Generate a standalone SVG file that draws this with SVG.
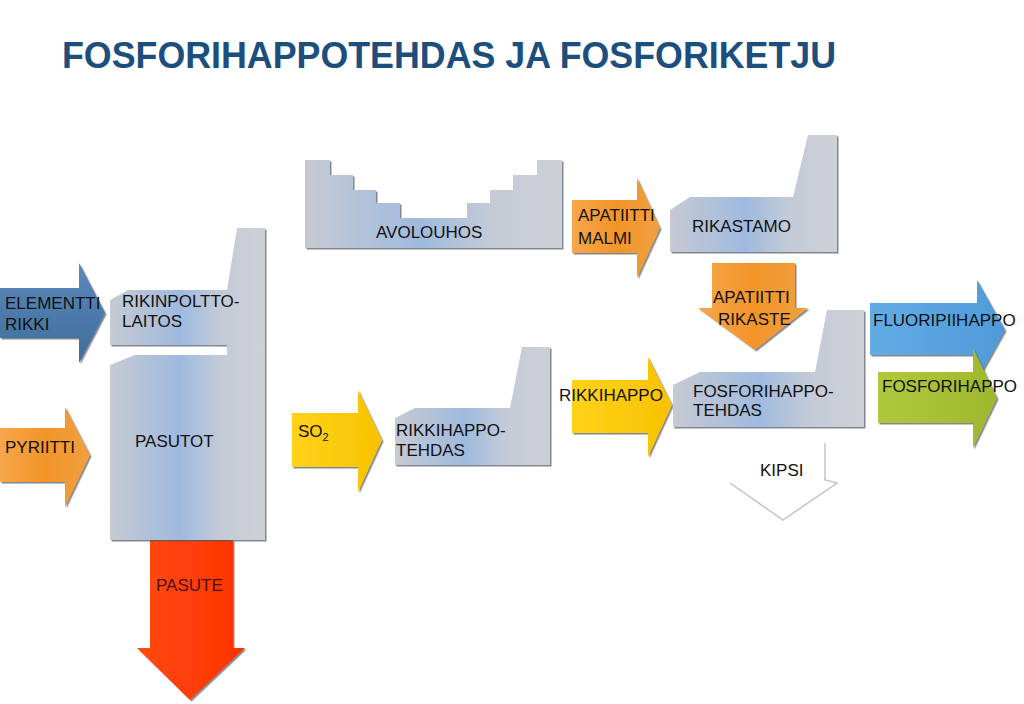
<svg xmlns="http://www.w3.org/2000/svg" width="1024" height="704" viewBox="0 0 1024 704">
<defs>
<linearGradient id="bld" x1="0" y1="0" x2="1" y2="0">
<stop offset="0" stop-color="#C6CAD2"/>
<stop offset="0.45" stop-color="#9FBADF"/>
<stop offset="0.72" stop-color="#C4CBD7"/>
<stop offset="1" stop-color="#CDD0D6"/>
</linearGradient>
<linearGradient id="orange" x1="0" y1="0" x2="1" y2="0">
<stop offset="0" stop-color="#F7A64A"/>
<stop offset="0.5" stop-color="#F3952A"/>
<stop offset="1" stop-color="#F0A040"/>
</linearGradient>
<linearGradient id="yellow" x1="0" y1="0" x2="1" y2="0">
<stop offset="0" stop-color="#FFD21A"/>
<stop offset="1" stop-color="#F7C200"/>
</linearGradient>
<linearGradient id="blue" x1="0" y1="0" x2="0" y2="1">
<stop offset="0" stop-color="#5B8ABB"/>
<stop offset="1" stop-color="#3F6B9B"/>
</linearGradient>
<linearGradient id="lblue" x1="0" y1="0" x2="1" y2="0">
<stop offset="0" stop-color="#62ACE6"/>
<stop offset="1" stop-color="#4F9BD8"/>
</linearGradient>
<linearGradient id="green" x1="0" y1="0" x2="1" y2="0">
<stop offset="0" stop-color="#B0C83C"/>
<stop offset="1" stop-color="#A0B830"/>
</linearGradient>
<linearGradient id="red" x1="0" y1="0" x2="1" y2="0">
<stop offset="0" stop-color="#FF4A10"/>
<stop offset="1" stop-color="#FF3300"/>
</linearGradient>
<filter id="sh" x="-5%" y="-5%" width="115%" height="115%">
<feDropShadow dx="1.5" dy="1.5" stdDeviation="0.6" flood-color="#505560" flood-opacity="0.7"/>
</filter>
</defs>
<style>
text { font-family: "Liberation Sans", Arial, sans-serif; font-size: 17px; fill: #111111; }
.title { font-size: 36px; font-weight: bold; fill: #1C4E7E; }
.bld { fill: url(#bld); filter: url(#sh); }
.arr { filter: url(#sh); }
</style>
<rect width="1024" height="704" fill="#FFFFFF"/>
<text class="title" x="62" y="68" textLength="774" lengthAdjust="spacingAndGlyphs">FOSFORIHAPPOTEHDAS JA FOSFORIKETJU</text>

<g id="connectors">
<g id="elementti-rikki">
<path class="arr" fill="url(#blue)" d="M0,288 H79 V263 L105,313 L79,363 V338 H0 Z"/>
<text x="5" y="309">ELEMENTTI</text>
<text x="5" y="330">RIKKI</text>
</g>
<g id="pyriitti">
<path class="arr" fill="url(#orange)" d="M0,428 H65 V407 L90,455 L65,507 V482 H0 Z"/>
<text x="5" y="453">PYRIITTI</text>
</g>
<g id="pasute">
<path class="arr" fill="url(#red)" d="M150,540 H233 V648 H245 L190,700 L137,648 H150 Z"/>
<text x="156" y="591" style="fill:#4A1010">PASUTE</text>
</g>
<g id="so2">
<path class="arr" fill="url(#yellow)" d="M292,413 H358 V390 L382,440 L358,492 V467 H292 Z"/>
<text x="298" y="437">SO<tspan font-size="11" dy="4">2</tspan></text>
</g>
<g id="apatiitti-malmi">
<path class="arr" fill="url(#orange)" d="M572,200 H637 V178 L660,228 L637,278 V253 H572 Z"/>
<text x="578" y="221">APATIITTI</text>
<text x="578" y="244">MALMI</text>
</g>
<g id="apatiitti-rikaste">
<path class="arr" fill="url(#orange)" d="M712,263 H795 V308 H808 L755,350 L698,308 H712 Z"/>
<text x="713" y="303">APATIITTI</text>
<text x="718" y="325">RIKASTE</text>
</g>
<g id="rikkihappo">
<path class="arr" fill="url(#yellow)" d="M572,380 H648 V357 L672,405 L648,457 V433 H572 Z"/>
<text x="559" y="401">RIKKIHAPPO</text>
</g>
<g id="fluoripiihappo">
<path class="arr" fill="url(#lblue)" d="M870,303 H977 V280 L1005,330 L977,380 V355 H870 Z"/>
<text x="873" y="326">FLUORIPIIHAPPO</text>
</g>
<g id="fosforihappo">
<path class="arr" fill="url(#green)" d="M878,372 H973 V348 L997,398 L973,448 V423 H878 Z"/>
<text x="882" y="392">FOSFORIHAPPO</text>
</g>
<g id="kipsi">
<path d="M825,443 V480 L837,483 L783,520 L730,483" fill="none" stroke="#C4C4C4" stroke-width="1.5"/>
<text x="760" y="476">KIPSI</text>
</g>
</g>

<g id="rikinpolttolaitos">
<path class="bld" d="M110,300 L128,290 H227 L237,228 H265 V345 H110 Z"/>
<text x="122" y="307">RIKINPOLTTO-</text>
<text x="122" y="327">LAITOS</text>
</g>
<g id="pasutot">
<path class="bld" d="M110,365 L135,355 H227 V345 H265 V540 H110 Z"/>
<text x="135" y="447">PASUTOT</text>
</g>
<g id="avolouhos">
<path class="bld" d="M305,160 H330 V175 H353 V190 H376 V203 H400 V218 H467 V203 H490 V190 H513 V175 H537 V160 H562 V248 H305 Z"/>
<text x="376" y="238">AVOLOUHOS</text>
</g>
<g id="rikastamo">
<path class="bld" d="M670,210 L690,197 H793 L808,135 H837 V252 H670 Z"/>
<text x="692" y="232">RIKASTAMO</text>
</g>
<g id="rikkihappotehdas">
<path class="bld" d="M395,418 L415,408 H510 L522,347 H550 V465 H395 Z"/>
<text x="396" y="436">RIKKIHAPPO-</text>
<text x="396" y="456">TEHDAS</text>
</g>
<g id="fosforihappotehdas">
<path class="bld" d="M673,385 L700,372 H815 L827,310 H864 V427 H673 Z"/>
<text x="693" y="397">FOSFORIHAPPO-</text>
<text x="693" y="416">TEHDAS</text>
</g>
</svg>
